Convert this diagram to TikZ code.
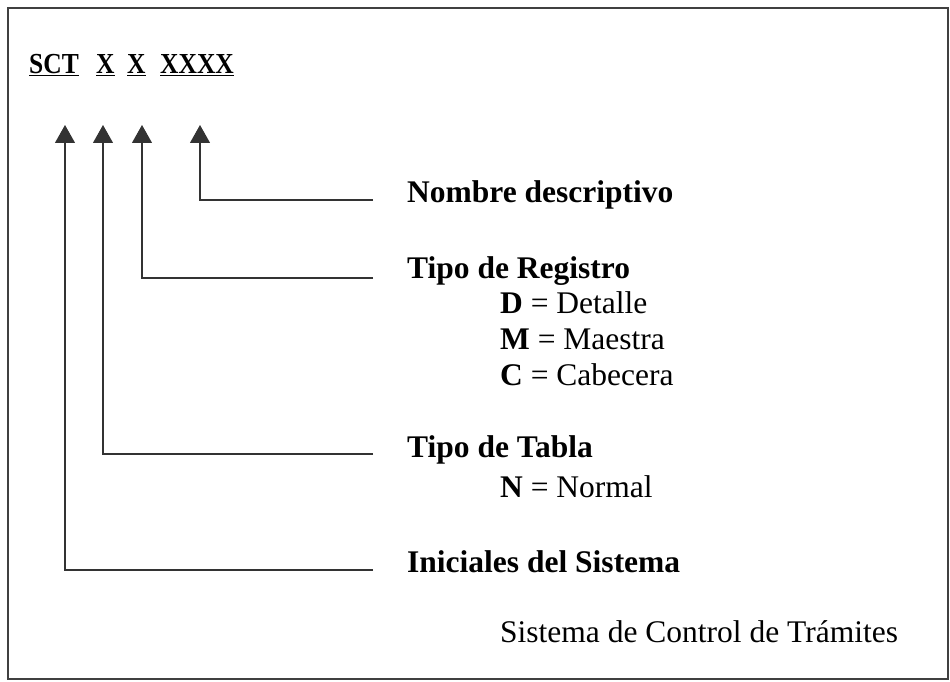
\documentclass[tikz,border=0pt]{standalone}
\usepackage{fontspec}
\setmainfont{Liberation Serif}
\newfontfamily\codefont[FakeStretch=0.88]{Liberation Serif}
\usetikzlibrary{arrows.meta}
\begin{document}
\begin{tikzpicture}[x=1pt,y=-1pt,
  lbl/.style={anchor=base west,inner sep=0pt,font=\fontsize{31.5}{36}\selectfont\bfseries},
  item/.style={anchor=base west,inner sep=0pt,font=\fontsize{31.5}{36}\selectfont},
  code/.style={anchor=base west,inner sep=0pt,font=\codefont\fontsize{29}{33}\selectfont\bfseries},
  conn/.style={line width=1.1pt,draw=black!80,-{Triangle[width=20pt,length=18pt]}},
  frame/.style={line width=1.5pt,draw=black!75}
]
\useasboundingbox (0,0) rectangle (950,682);
\draw[frame] (8,8) rectangle (948,679);
% code
\node[code] (sct) at (29,74) {\underline{SCT}};
\node[code] (x1) at (96,74) {\underline{X}};
\node[code] (x2) at (127,74) {\underline{X}};
\node[code] (x4) at (160,74) {\underline{XXXX}};
% arrow tips
\coordinate (t1) at (65,125);
\coordinate (t2) at (103,125);
\coordinate (t3) at (142,125);
\coordinate (t4) at (200,125);
% line ends
\coordinate (e4) at (373,200);
\coordinate (e3) at (373,278);
\coordinate (e2) at (373,454);
\coordinate (e1) at (373,570);
% labels
\node[lbl] (l4) at (407,202) {Nombre descriptivo};
\node[lbl] (l3) at (407,278) {Tipo de Registro};
\node[item] (d) at (500,313) {\textbf{D} = Detalle};
\node[item] (m) at (500,349) {\textbf{M} = Maestra};
\node[item] (c) at (500,385) {\textbf{C} = Cabecera};
\node[lbl] (l2) at (407,457) {Tipo de Tabla};
\node[item] (n) at (500,497) {\textbf{N} = Normal};
\node[lbl] (l1) at (407,572) {Iniciales del Sistema};
\node[item] (s) at (500,642) {Sistema de Control de Trámites};
% connectors
\draw[conn] (e4) -| (t4);
\draw[conn] (e3) -| (t3);
\draw[conn] (e2) -| (t2);
\draw[conn] (e1) -| (t1);
\end{tikzpicture}
\end{document}
